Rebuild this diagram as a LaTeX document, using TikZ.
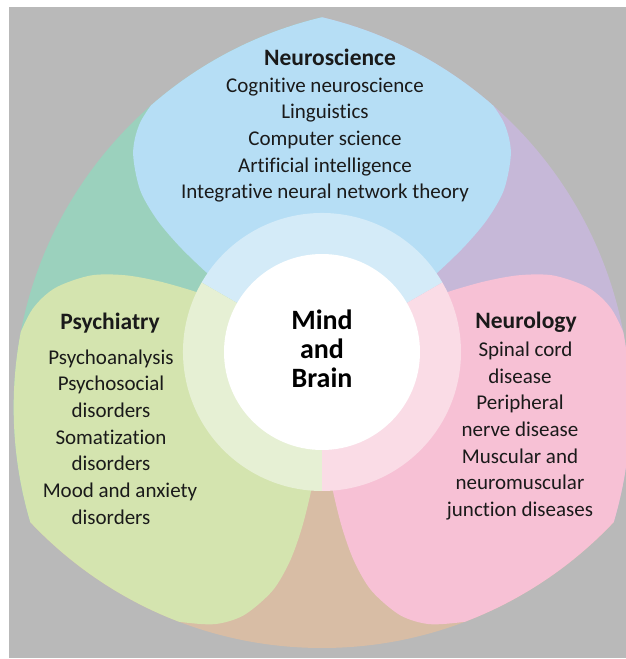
\documentclass[tikz,border=0pt]{standalone}
\usepackage{fontspec}
\setmainfont{Carlito}[Ligatures={NoCommon,NoContextual}]
\definecolor{bgGray}{HTML}{B9B9B9}
\definecolor{petalBlue}{HTML}{B6DEF5}
\definecolor{petalGreen}{HTML}{D4E4AF}
\definecolor{petalPink}{HTML}{F7C1D5}
\definecolor{mixTeal}{HTML}{9BD1BD}
\definecolor{mixPurple}{HTML}{C6B8D8}
\definecolor{mixTan}{HTML}{D8BDA5}
\definecolor{ringBlue}{HTML}{D4EBF8}
\definecolor{ringGreen}{HTML}{E6F0D4}
\definecolor{ringPink}{HTML}{FADCE6}
\definecolor{inkC}{HTML}{1A1A1A}
\tikzset{
  listtext/.style={align=center, text=inkC, inner sep=0pt, font=\fontsize{21}{26.7}\selectfont},
  titletext/.style={align=center, text=inkC, inner sep=0pt, font=\fontsize{23.5}{28}\selectfont\bfseries},
  centertext/.style={align=center, text=black, inner sep=0pt, font=\fontsize{28}{29}\selectfont\bfseries},
}
\begin{document}
\begin{tikzpicture}[x=1pt,y=1pt]
\useasboundingbox (0,0) rectangle (626,659);
\fill[white] (0,0) rectangle (626,659);
\fill[bgGray] (9,1) rectangle (626,652);
\begin{scope}[shift={(322,305)}]
  \begin{scope}
    \clip (90:107pt) circle[radius=401pt];
    \clip (210:107pt) circle[radius=401pt];
    \clip (330:107pt) circle[radius=401pt];
    \fill[mixTeal] (0,0) -- (90:600pt) arc[start angle=90,end angle=210,radius=600pt] -- cycle;
    \fill[mixPurple] (0,0) -- (-30:600pt) arc[start angle=-30,end angle=90,radius=600pt] -- cycle;
    \fill[mixTan] (0,0) -- (210:600pt) arc[start angle=210,end angle=330,radius=600pt] -- cycle;
    \begin{scope}[shift={(0,2)}]
      \foreach \ang/\col in {0/petalBlue,120/petalGreen,240/petalPink}{
        \fill[\col, rotate=\ang] (0,0) -- plot[smooth] coordinates {
          (146:120pt) (145.5:139.5pt) (143.5:176.6pt) (141.3:211.3pt) (138.3:243.7pt)
          (133.5:274.4pt) (128.5:292.5pt) (122:305.5pt) (116:318pt) (110:330pt) (90:360pt)
          (70:330pt) (64:318pt) (58:305.5pt) (51.5:292.5pt) (46.5:274.4pt) (41.7:243.7pt)
          (38.7:211.3pt) (36.5:176.6pt) (34.5:139.5pt) (34:120pt)} -- cycle;
      }
    \end{scope}
  \end{scope}
  \begin{scope}[shift={(0,2)}]
    \fill[ringBlue] (0,0) -- (30:139pt) arc[start angle=30,end angle=150,radius=139pt] -- cycle;
    \fill[ringGreen] (0,0) -- (150:139pt) arc[start angle=150,end angle=270,radius=139pt] -- cycle;
    \fill[ringPink] (0,0) -- (270:139pt) arc[start angle=270,end angle=390,radius=139pt] -- cycle;
    \fill[white] (0,0) circle[radius=98pt];
  \end{scope}
\end{scope}
\node[titletext] (neuroTitle) at (330,602) {Neuroscience};
\node[listtext] (neuroList) at (325,519) {Cognitive neuroscience\\Linguistics\\Computer science\\Artificial intelligence\\Integrative neural network theory};
\node[titletext] (psyTitle) at (110,336) {Psychiatry};
\node[listtext] (psyList) at (111,222) {Psychoanalysis\\Psychosocial\\disorders\\Somatization\\disorders\\\hspace*{18pt}Mood and anxiety\\disorders};
\node[titletext] (neurTitle) at (526,337) {Neurology};
\node[listtext] (neurList) at (520,228) {\hspace*{11pt}Spinal cord\\disease\\Peripheral\\nerve disease\\Muscular and\\neuromuscular\\junction diseases};
\node[centertext] (mind) at (322,310) {Mind\\and\\Brain};
\end{tikzpicture}
\end{document}
